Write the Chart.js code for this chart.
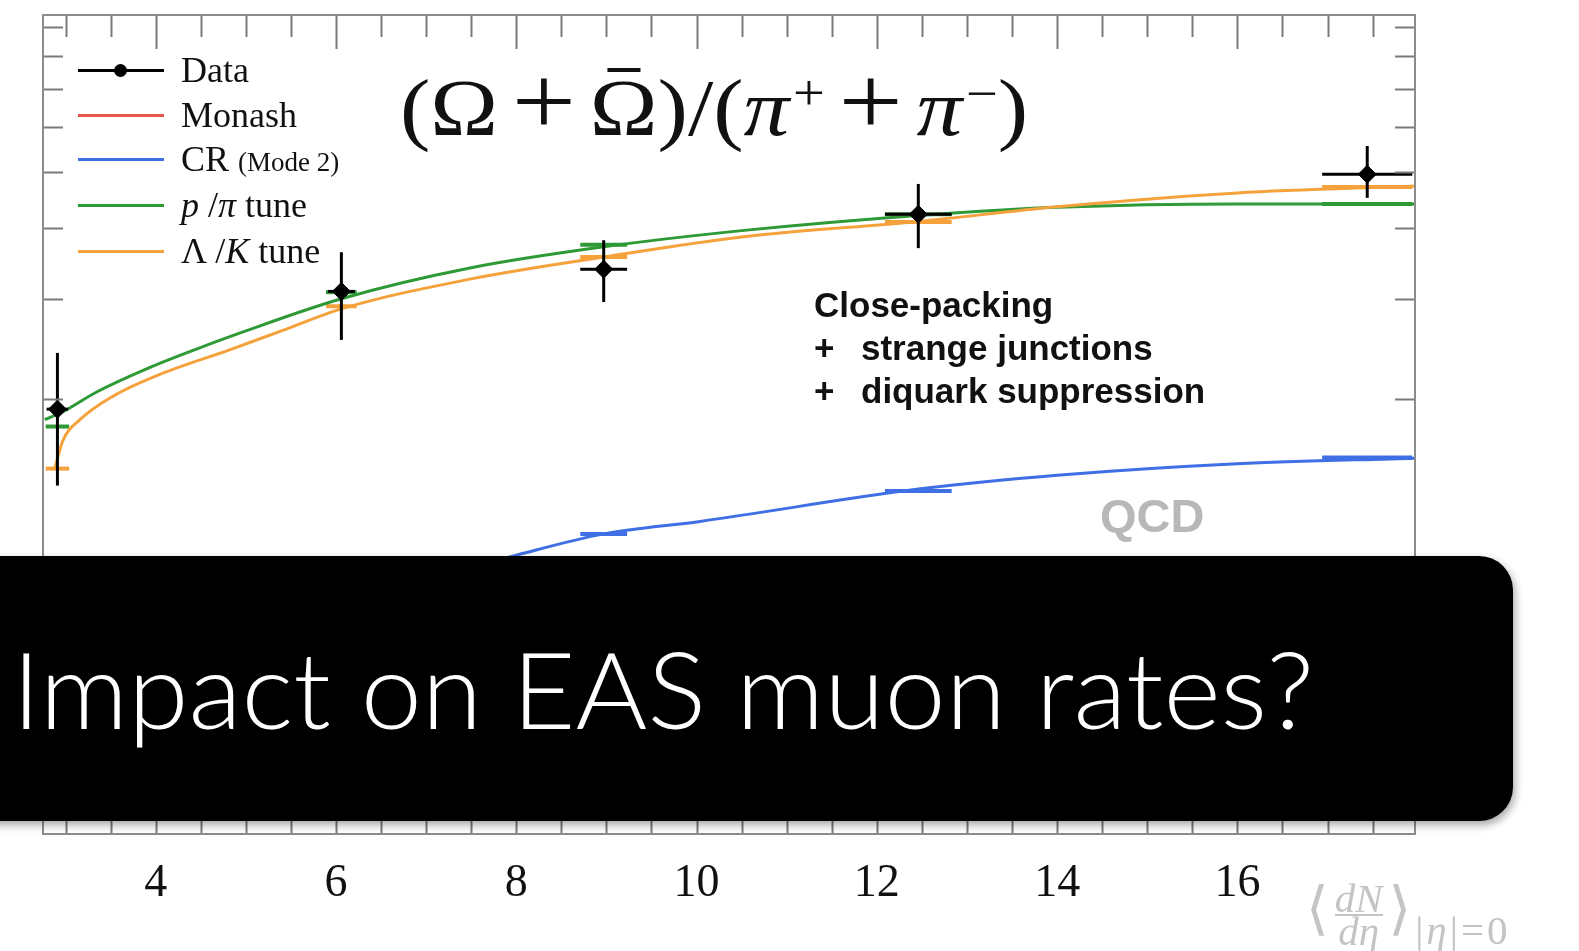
<!DOCTYPE html>
<html>
<head>
<meta charset="utf-8">
<script src="https://cdn.jsdelivr.net/npm/chart.js@4.4.1/dist/chart.umd.min.js"></script>
<style>
  html, body { margin: 0; padding: 0; background: #fff; overflow: hidden; }
  #wrap { position: relative; width: 1579px; height: 951px; }
  canvas { position: absolute; left: 0; top: 0; }
  .serif { font-family: 'Liberation Serif', 'DejaVu Serif', serif; color: #111; }
  .row { position: absolute; left: 78px; height: 46px; white-space: nowrap; }
  .row .sw { position: absolute; left: 0; top: 22px; width: 86px; height: 3px; }
  .row .dot { position: absolute; left: 36px; top: 17px; width: 13px; height: 13px; border-radius: 50%; background: #000; }
  .row .lab { position: absolute; left: 103px; top: 0; font-size: 36px; line-height: 46px; }
  .small { font-size: 27px; }
  #title { position: absolute; left: 400px; top: 68px; font-size: 80px; line-height: 1; white-space: nowrap; transform-origin: 0 0; }
  #title .op { font-size: 1.25em; line-height: 0; margin: 0 0.12em; }
  #title .pi { margin-right: 0.04em; }
  #title sup { font-size: 0.62em; vertical-align: 0.5em; line-height: 0; }
  #title .bar { position: relative; display: inline-block; }
  #title .bar::before { content: ''; position: absolute; left: 26%; right: 26%; top: 0.0em; height: 0.055em; background: #111; }
  #note { position: absolute; left: 814px; top: 283px; font-family: 'Liberation Sans', Arial, sans-serif; font-weight: bold; font-size: 35px; line-height: 43px; color: #111; white-space: nowrap; }
  #note .plus { display: inline-block; width: 47px; }
  #qcd { position: absolute; left: 1100px; top: 488px; font-family: 'Liberation Sans', Arial, sans-serif; font-weight: bold; font-size: 47px; color: #b8b8b8; }
  #xlab { position: absolute; left: 1306px; top: 880px; color: #c4c4c4; white-space: nowrap; font-size: 58px; line-height: 1; }
  #xlab .frac { display: inline-block; vertical-align: middle; text-align: center; font-style: italic; font-size: 41px; line-height: 31px; margin: 0 6px; }
  #xlab .frac span { display: block; }
  #xlab .frac .num { border-bottom: 2px solid #c4c4c4; }
  #xlab sub { font-size: 41px; vertical-align: -0.4em; letter-spacing: 3px; margin-left: 4px; }
  #banner { position: absolute; left: -40px; top: 556px; width: 1553px; height: 265px; background: #000; border-radius: 34px; box-shadow: 2px 4px 8px rgba(0,0,0,0.35); overflow: hidden; }
  #banner span { position: absolute; left: 52px; top: 68px; font-family: Lato, 'Open Sans', sans-serif; font-weight: 300; font-size: 107px; line-height: 1.2; color: #fff; white-space: nowrap; transform-origin: 0 0; }
</style>
</head>
<body>
<div id="wrap">
  <canvas id="chart" width="1579" height="951"></canvas>

  <div class="row serif" style="top:47px"><div class="sw" style="background:#000"></div><div class="dot"></div><div class="lab">Data</div></div>
  <div class="row serif" style="top:92px"><div class="sw" style="background:#e8574a"></div><div class="lab">Monash</div></div>
  <div class="row serif" style="top:136px"><div class="sw" style="background:#3f6fe4"></div><div class="lab">CR <span class="small">(Mode 2)</span></div></div>
  <div class="row serif" style="top:182px"><div class="sw" style="background:#2e9a36"></div><div class="lab"><i>p</i> /<i>π</i> tune</div></div>
  <div class="row serif" style="top:228px"><div class="sw" style="background:#f5a23c"></div><div class="lab">Λ /<i>K</i> tune</div></div>

  <div id="title" class="serif">(Ω<span class="op">+</span><span class="bar">Ω</span>)/(<i class="pi">π</i><sup>+</sup><span class="op">+</span><i class="pi">π</i><sup>−</sup>)</div>

  <div id="note">Close-packing<br><span class="plus">+</span>strange junctions<br><span class="plus">+</span>diquark suppression</div>
  <div id="qcd">QCD</div>

  <div id="xlab" class="serif">⟨<span class="frac"><span class="num">dN</span><span>dη</span></span>⟩<sub>|<i>η</i>|=0</sub></div>

  <div id="banner"><span id="bannerText">Impact on EAS muon rates?</span></div>
</div>

<script>
// x axis labels and y (log) tick positions
const xTickLabels = [4, 6, 8, 10, 12, 14, 16];
const yTickValues = [2, 3, 4, 5, 6, 7, 8, 9];

// ALICE data points (ratio, arbitrary 1e-4 units) with errors
const dataX = [2.91, 6.06, 8.97, 12.46, 17.44];
const dataY = [1.92, 3.09, 3.38, 4.22, 4.96];
const dataHi = [2.41, 3.62, 3.80, 4.77, 5.56];
const dataLo = [1.41, 2.54, 2.96, 3.68, 4.51];
const dataXErr = [0.12, 0.15, 0.26, 0.37, 0.50];

// model curves
const greenX = [2.77, 2.97, 3.35, 3.90, 4.46, 4.90, 6.06, 7.50, 8.97, 10.50, 12.46, 14.0, 16.0, 17.97];
const greenY = [1.84, 1.90, 2.06, 2.26, 2.45, 2.60, 3.00, 3.40, 3.70, 3.95, 4.20, 4.34, 4.40, 4.40];
const orangeX = [2.88, 2.97, 3.16, 3.52, 4.08, 4.82, 5.41, 6.06, 7.50, 8.97, 10.50, 12.46, 14.0, 16.0, 17.97];
const orangeY = [1.51, 1.69, 1.84, 2.02, 2.22, 2.44, 2.64, 2.88, 3.25, 3.55, 3.85, 4.10, 4.35, 4.60, 4.73];
const blueX = [6.5, 7.96, 8.97, 10.04, 12.46, 14.0, 16.0, 17.97];
const blueY = [0.92, 1.06, 1.16, 1.22, 1.39, 1.47, 1.54, 1.575];

// model values in the data bins
const binHalf = [0.13, 0.17, 0.26, 0.37, 0.50];
const greenBar = [1.79, 3.08, 3.73, 4.22, 4.40];
const orangeBar = [1.51, 2.91, 3.55, 4.09, 4.71];
const blueBar = [null, null, 1.16, 1.38, 1.58];

const GREEN = '#2e9a36';
const ORANGE = '#f5a23c';
const BLUE = '#3f6fe4';

const pts = (xs, ys) => xs.map((x, i) => ({ x: x, y: ys[i] }));

function hLine(ctx, x0, x1, y) {
    ctx.beginPath();
    ctx.moveTo(x0, y);
    ctx.lineTo(x1, y);
    ctx.stroke();
}

function clipArea(ctx, a) {
    ctx.beginPath();
    ctx.rect(a.left, a.top, a.right - a.left, a.bottom - a.top);
    ctx.clip();
}

const rootStyle = {
    id: 'rootStyle',
    beforeDatasetsDraw(chart) {
        const { ctx, chartArea: a, scales: { x, y } } = chart;
        ctx.save();
        clipArea(ctx, a);
        ctx.lineWidth = 4;
        [[greenBar, GREEN], [orangeBar, ORANGE], [blueBar, BLUE]].forEach(([vals, col]) => {
            ctx.strokeStyle = col;
            vals.forEach((v, i) => {
                if (v === null) return;
                hLine(ctx, x.getPixelForValue(dataX[i] - binHalf[i]), x.getPixelForValue(dataX[i] + binHalf[i]), y.getPixelForValue(v));
            });
        });
        ctx.restore();
    },
    beforeDatasetDraw(chart, args) {
        if (args.index !== 0) return;
        const { ctx, chartArea: a, scales: { x, y } } = chart;
        ctx.save();
        clipArea(ctx, a);
        ctx.strokeStyle = '#000';
        ctx.lineWidth = 3;
        dataX.forEach((xv, i) => {
            const px = x.getPixelForValue(xv);
            ctx.beginPath();
            ctx.moveTo(px, y.getPixelForValue(dataHi[i]));
            ctx.lineTo(px, y.getPixelForValue(dataLo[i]));
            ctx.stroke();
            hLine(ctx, x.getPixelForValue(xv - dataXErr[i]), x.getPixelForValue(xv + dataXErr[i]), y.getPixelForValue(dataY[i]));
        });
        ctx.restore();
    },
    afterDatasetsDraw(chart) {
        const { ctx, chartArea: a, scales: { x, y } } = chart;
        ctx.save();
        ctx.strokeStyle = '#7a7a7a';
        ctx.lineWidth = 2;
        // x ticks, top and bottom, every 0.5 with majors at the labelled values
        for (let v = 3; v <= 17.5; v += 0.5) {
            const px = Math.round(x.getPixelForValue(v)) + 0.5;
            const len = xTickLabels.includes(v) ? 34 : 22;
            ctx.beginPath();
            ctx.moveTo(px, a.top); ctx.lineTo(px, a.top + len);
            ctx.moveTo(px, a.bottom); ctx.lineTo(px, a.bottom - len);
            ctx.stroke();
        }
        yTickValues.forEach(v => {
            const py = Math.round(y.getPixelForValue(v)) + 0.5;
            hLine(ctx, a.left, a.left + 20, py);
            hLine(ctx, a.right - 20, a.right, py);
        });
        ctx.strokeStyle = '#8c8c8c';
        ctx.strokeRect(a.left, a.top, a.right - a.left, a.bottom - a.top);

        // x tick labels under the frame
        ctx.fillStyle = '#111';
        ctx.font = "46px 'Liberation Serif', 'DejaVu Serif', serif";
        ctx.textAlign = 'center';
        ctx.textBaseline = 'alphabetic';
        xTickLabels.forEach(v => {
            ctx.fillText(String(v), x.getPixelForValue(v), 896);
        });
        ctx.restore();
    }
};

new Chart(document.getElementById('chart'), {
    type: 'scatter',
    data: {
        datasets: [
            {
                label: 'Data',
                data: pts(dataX, dataY),
                pointStyle: 'rectRot',
                pointRadius: 9,
                backgroundColor: '#000',
                borderColor: '#000',
                order: 0
            },
            {
                type: 'line',
                label: 'Λ/K tune',
                data: pts(orangeX, orangeY),
                borderColor: ORANGE,
                borderWidth: 3,
                pointRadius: 0,
                cubicInterpolationMode: 'monotone',
                fill: false,
                order: 1
            },
            {
                type: 'line',
                label: 'p/π tune',
                data: pts(greenX, greenY),
                borderColor: GREEN,
                borderWidth: 3,
                pointRadius: 0,
                cubicInterpolationMode: 'monotone',
                fill: false,
                order: 2
            },
            {
                type: 'line',
                label: 'CR (Mode 2)',
                data: pts(blueX, blueY),
                borderColor: BLUE,
                borderWidth: 3,
                pointRadius: 0,
                cubicInterpolationMode: 'monotone',
                fill: false,
                order: 3
            }
        ]
    },
    options: {
        responsive: false,
        animation: false,
        devicePixelRatio: 1,
        layout: { padding: { left: 43, top: 15, right: 164, bottom: 117 } },
        plugins: { legend: { display: false }, tooltip: { enabled: false } },
        scales: {
            x: { type: 'linear', min: 2.75, max: 17.97, bounds: 'data', display: false },
            y: { type: 'logarithmic', min: 0.345, max: 9.44, bounds: 'data', display: false }
        }
    },
    plugins: [rootStyle]
});

// stretch the banner text and the formula to the widths they have in the slide
function fitWidth(id, target) {
    const el = document.getElementById(id);
    const w = el.getBoundingClientRect().width;
    el.style.transform = 'scaleX(' + (target / w) + ')';
}
fitWidth('bannerText', 1302);
fitWidth('title', 628);
</script>
</body>
</html>
